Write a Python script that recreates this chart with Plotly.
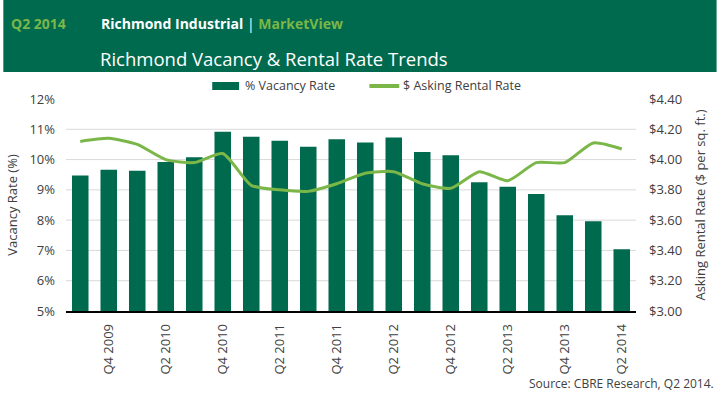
import plotly.graph_objects as go

# ---- data ----
quarters = ["Q3 2009", "Q4 2009", "Q1 2010", "Q2 2010", "Q3 2010", "Q4 2010",
            "Q1 2011", "Q2 2011", "Q3 2011", "Q4 2011", "Q1 2012", "Q2 2012",
            "Q3 2012", "Q4 2012", "Q1 2013", "Q2 2013", "Q3 2013", "Q4 2013",
            "Q1 2014", "Q2 2014"]
vacancy_rate = [9.47, 9.66, 9.63, 9.92, 10.08, 10.92, 10.75, 10.62, 10.42, 10.67,
                10.56, 10.73, 10.25, 10.14, 9.25, 9.10, 8.86, 8.16, 7.96, 7.04]
asking_rent = [4.12, 4.14, 4.10, 4.00, 3.98, 4.04, 3.83, 3.80, 3.79, 3.84,
               3.91, 3.92, 3.84, 3.81, 3.92, 3.86, 3.98, 3.98, 4.11, 4.07]
x_tick_labels = quarters[1::2]
vacancy_ticks = [5, 6, 7, 8, 9, 10, 11, 12]
rent_ticks = [3.00, 3.20, 3.40, 3.60, 3.80, 4.00, 4.20, 4.40]

series_names = ["% Vacancy Rate", "$ Asking Rental Rate"]

# ---- style ----
W, H = 717, 396
L, R, T, B = 63, 81, 99, 85
PW, PH = W - L - R, H - T - B
DARK = "#006A4E"
LIGHT = "#7AB648"
TXT = "#404040"
FONT = "Open Sans"


def px_x(p):
    return (p - L) / PW


def px_y(p):
    return (H - B - p) / PH


fig = go.Figure()
fig.add_trace(go.Bar(x=quarters, y=vacancy_rate, name=series_names[0],
                     marker=dict(color=DARK, line=dict(width=0)), yaxis="y"))
fig.add_trace(go.Scatter(x=quarters, y=asking_rent, name=series_names[1],
                         mode="lines", line=dict(color=LIGHT, width=3, shape="spline", smoothing=0.6),
                         yaxis="y2"))

shapes = []
# header band
shapes.append(dict(type="rect", xref="paper", yref="paper", x0=px_x(0), x1=px_x(W),
                   y0=px_y(72), y1=px_y(0), fillcolor=DARK, line=dict(width=0), layer="below"))
# gridlines
for v in vacancy_ticks[1:-1]:
    shapes.append(dict(type="line", xref="paper", yref="y", x0=0, x1=1, y0=v, y1=v,
                       line=dict(color="#D9D9D9", width=1), layer="below"))
# legend swatches
shapes.append(dict(type="rect", xref="paper", yref="paper", x0=px_x(210), x1=px_x(237),
                   y0=px_y(90), y1=px_y(82), fillcolor=DARK, line=dict(width=0)))
shapes.append(dict(type="line", xref="paper", yref="paper", x0=px_x(368), x1=px_x(398),
                   y0=px_y(86), y1=px_y(86), line=dict(color=LIGHT, width=4)))

annotations = [
    dict(text="<b>Q2 2014</b>", x=px_x(6), y=px_y(23), xref="paper", yref="paper",
         xanchor="left", yanchor="middle", showarrow=False,
         font=dict(family=FONT, size=14, color=LIGHT)),
    dict(text="<b>Richmond Industrial</b> | <b><span style='color:%s'>MarketView</span></b>" % LIGHT,
         x=px_x(96), y=px_y(23), xref="paper", yref="paper",
         xanchor="left", yanchor="middle", showarrow=False,
         font=dict(family=FONT, size=14, color="white")),
    dict(text="Richmond Vacancy & Rental Rate Trends", x=px_x(95), y=px_y(58),
         xref="paper", yref="paper", xanchor="left", yanchor="middle", showarrow=False,
         font=dict(family=FONT, size=18.5, color="white", weight=500)),
    dict(text=series_names[0], x=px_x(241), y=px_y(86), xref="paper", yref="paper",
         xanchor="left", yanchor="middle", showarrow=False,
         font=dict(family=FONT, size=12.5, color=TXT)),
    dict(text=series_names[1], x=px_x(400), y=px_y(86), xref="paper", yref="paper",
         xanchor="left", yanchor="middle", showarrow=False,
         font=dict(family=FONT, size=12.5, color=TXT)),
    dict(text="Source: CBRE Research, Q2 2014.", x=px_x(716), y=px_y(383), xref="paper",
         yref="paper", xanchor="right", yanchor="middle", showarrow=False,
         font=dict(family=FONT, size=12, color=TXT)),
]

fig.update_layout(
    width=W, height=H, autosize=False,
    margin=dict(l=L, r=R, t=T, b=B, pad=0),
    paper_bgcolor="white", plot_bgcolor="white",
    showlegend=False, bargap=0.42,
    font=dict(family=FONT, size=13, color=TXT),
    xaxis=dict(type="category", categoryorder="array", categoryarray=quarters,
               tickmode="array", tickvals=x_tick_labels, ticktext=x_tick_labels,
               tickangle=-90, showgrid=False, showline=True, linecolor="black", linewidth=1.5,
               ticks="", ticklabelstandoff=6, tickfont=dict(size=13, color=TXT), zeroline=False),
    yaxis=dict(range=[5, 12], tickmode="array", tickvals=vacancy_ticks,
               ticktext=["%d%%" % v for v in vacancy_ticks], showgrid=False, zeroline=False,
               ticks="", ticklabelstandoff=10, tickfont=dict(size=13, color=TXT),
               title=dict(text="Vacancy Rate (%)", font=dict(size=13, color=TXT), standoff=8)),
    yaxis2=dict(range=[3.0, 4.4], overlaying="y", side="right", tickmode="array",
                tickvals=rent_ticks, ticktext=["$%.2f" % v for v in rent_ticks],
                showgrid=False, zeroline=False, ticks="", ticklabelstandoff=12,
                tickfont=dict(size=13, color=TXT),
                title=dict(text="Asking Rental Rate ($ per sq. ft.)",
                           font=dict(size=13, color=TXT), standoff=14)),
    shapes=shapes, annotations=annotations,
)

fig.write_html("out.html", config={"displayModeBar": False},
               post_script="document.body.style.margin='0';document.body.style.overflow='hidden';")
